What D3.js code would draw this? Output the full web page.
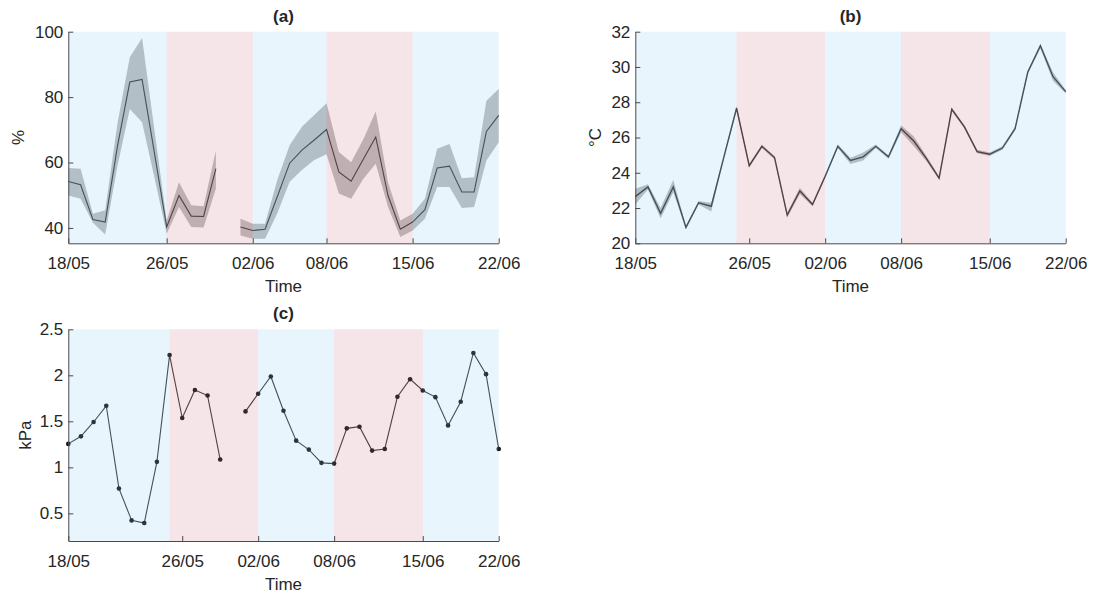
<!DOCTYPE html>
<html lang="en">
<head>
<meta charset="utf-8">
<title>RH, temperature and VPD</title>
<script src="https://cdn.jsdelivr.net/npm/d3@7"></script>
<style>
	body { margin: 0; background: #fff; }
	svg text { font-family: "Liberation Sans", Arial, sans-serif; }
</style>
</head>
<body>
<script>

// ---- data ----
// panel (a): relative humidity, daily mean and band (day 0 = 18/05)
var aMean = [54.2, 53.2, 42.6, 41.8, 65, 84.6, 85.4, 63, 40.3, 49.9, 43.6, 43.5, 58.1, null,
	40.3, 39.2, 39.6, 49.6, 59.8, 63.8, 66.9, 70.1, 57.1, 54.3, 61.1, 67.8, 49.9, 39.6,
	41.8, 45.6, 58.3, 58.9, 51.0, 51.0, 69.5, 74.4]
var aHi = [58.3, 58.1, 44.3, 45.4, 72, 92.2, 98.1, 70, 42.3, 54.0, 46.9, 46.6, 63.7, null,
	42.8, 41.3, 41.3, 54.7, 65.3, 70.9, 74.5, 78.1, 63.2, 60.1, 67.2, 75.6, 54.0, 42.3,
	44.3, 48.9, 64.2, 65.7, 55.2, 55.5, 78.9, 82.5]
var aLo = [49.9, 48.9, 41.6, 38.0, 59, 76.4, 72.3, 55.5, 38.2, 46.4, 40.3, 40.1, 52.0, null,
	37.7, 36.7, 36.7, 44.5, 54.1, 57.7, 60.8, 62.5, 50.5, 48.9, 55.0, 59.6, 46.4, 37.2,
	39.2, 42.8, 52.5, 52.5, 46.1, 46.4, 60.6, 66.2]
var aTicks = [0, 8, 15, 21, 28, 35]
var aPeriods = [[0, 8, "wet"], [8, 15, "dry"], [15, 21, "wet"], [21, 28, "dry"], [28, 35, "wet"]]

// panel (b): air temperature
var bMean = [22.65, 23.2, 21.7, 23.2, 20.9, 22.3, 22.1, 24.9, 27.66, 24.4, 25.5, 24.86, 21.6, 22.97,
	22.2, 23.8, 25.5, 24.7, 24.9, 25.5, 24.9, 26.5, 25.8, 24.8, 23.7, 27.6, 26.6, 25.2,
	25.05, 25.4, 26.5, 29.7, 31.2, 29.45, 28.6]
var bLo = [22.2, 23.05, 21.4, 22.9, 20.8, 22.2, 21.8, 24.8, 27.55, 24.3, 25.4, 24.75, 21.45, 22.8,
	22.1, 23.7, 25.4, 24.5, 24.7, 25.4, 24.8, 26.3, 25.5, 24.65, 23.6, 27.5, 26.5, 25.1,
	24.95, 25.3, 26.4, 29.6, 31.05, 29.2, 28.5]
var bHi = [23.1, 23.35, 22.0, 23.6, 21.0, 22.4, 22.3, 25.0, 27.8, 24.5, 25.6, 24.95, 21.75, 23.15,
	22.3, 23.9, 25.6, 24.85, 25.15, 25.6, 25.0, 26.7, 26.05, 24.95, 23.8, 27.7, 26.7, 25.3,
	25.15, 25.5, 26.6, 29.8, 31.3, 29.7, 28.7]

// panel (c): vapour pressure deficit
var cVpd = [1.255, 1.337, 1.493, 1.669, 0.771, 0.424, 0.395, 1.06, 2.22, 1.536, 1.84, 1.78, 1.085, null,
	1.608, 1.80, 1.987, 1.615, 1.29, 1.193, 1.049, 1.041, 1.424, 1.442, 1.182, 1.20, 1.767,
	1.958, 1.835, 1.763, 1.456, 1.713, 2.243, 2.013, 1.20]

var bcTicks = [0, 9, 15, 21, 28, 34]
var bcPeriods = [[0, 8, "wet"], [8, 15, "dry"], [15, 21, "wet"], [21, 28, "dry"], [28, 34, "wet"]]

var dateLabels = ["18/05", "26/05", "02/06", "08/06", "15/06", "22/06"]
var aYTicks = [40, 60, 80, 100]
var bYTicks = [20, 22, 24, 26, 28, 30, 32]
var cYTicks = [0.5, 1, 1.5, 2, 2.5]

var w = 1098, h = 593
var svg = d3.select("body").append("svg").attr("width", w).attr("height", h)

var periodColor = { wet: "rgb(145,205,240)", dry: "rgb(205,120,140)" }

function drawPanel(p) {
	var x = d3.scaleLinear().domain(p.xDomain).range([p.left, p.right])
	var y = d3.scaleLinear().domain(p.yDomain).range([p.bottom, p.top])
	var g = svg.append("g")
	var idx = d3.range(p.mean.length)

	if (p.lo) {
		var area = d3.area()
			.defined(function(i) { return p.lo[i] != null; })
			.x(function(i) { return x(i); })
			.y0(function(i) { return y(p.lo[i]); })
			.y1(function(i) { return y(p.hi[i]); })
		g.append("path").datum(idx)
			.attr("d", area)
			.attr("fill", "#505050")
			.attr("fill-opacity", 0.38)
	}

	var line = d3.line()
		.defined(function(i) { return p.mean[i] != null; })
		.x(function(i) { return x(i); })
		.y(function(i) { return y(p.mean[i]); })
	g.append("path").datum(idx)
		.attr("d", line)
		.attr("fill", "none")
		.attr("stroke", "#333")
		.attr("stroke-width", p.lineW)

	if (p.dots) {
		g.selectAll("circle")
			.data(idx.filter(function(i) { return p.mean[i] != null; }))
			.enter()
			.append("circle")
			.attr("cx", function(i) { return x(i); })
			.attr("cy", function(i) { return y(p.mean[i]); })
			.attr("r", 2.3)
			.attr("fill", "#111")
	}

	// wet / dry period shading, laid over the data like the original patches
	g.selectAll("rect.shade")
		.data(p.periods)
		.enter()
		.append("rect")
		.attr("class", "shade")
		.attr("x", function(d) { return x(d[0]); })
		.attr("width", function(d) { return x(d[1]) - x(d[0]); })
		.attr("y", p.top)
		.attr("height", p.bottom - p.top)
		.attr("fill", function(d) { return periodColor[d[2]]; })
		.attr("fill-opacity", 0.2)

	var xAxis = d3.axisBottom(x)
		.tickValues(p.xTicks)
		.tickFormat(function(d, i) { return dateLabels[i]; })
		.tickSizeInner(-5)
		.tickSizeOuter(0)
		.tickPadding(13.5)
	var gx = g.append("g").attr("transform", "translate(0," + p.bottom + ")").call(xAxis)

	var yAxis = d3.axisLeft(y)
		.tickValues(p.yTicks)
		.tickFormat(function(d) { return String(d); })
		.tickSizeInner(-5)
		.tickSizeOuter(0)
		.tickPadding(5)
	var gy = g.append("g").attr("transform", "translate(" + p.left + ",0)").call(yAxis)

	;[gx, gy].forEach(function(a) {
		a.attr("font-size", 17).attr("font-family", "Liberation Sans, Arial, sans-serif")
		a.selectAll("path, line").attr("stroke", "#4a4a4a")
		a.selectAll("text").attr("fill", "#262626")
	})

	g.append("text")
		.attr("x", (p.left + p.right) / 2)
		.attr("y", p.top - 10)
		.attr("text-anchor", "middle")
		.attr("font-size", 17)
		.attr("font-weight", "bold")
		.attr("fill", "#262626")
		.text(p.title)

	g.append("text")
		.attr("x", (p.left + p.right) / 2)
		.attr("y", p.bottom + 48.5)
		.attr("text-anchor", "middle")
		.attr("font-size", 17)
		.attr("fill", "#262626")
		.text("Time")

	g.append("text")
		.attr("transform", "translate(" + p.ylabX + "," + ((p.top + p.bottom) / 2) + ") rotate(-90)")
		.attr("text-anchor", "middle")
		.attr("font-size", 17)
		.attr("fill", "#262626")
		.text(p.ylabel)
}

drawPanel({
	left: 68.3, right: 498.7, top: 31.7, bottom: 243.3,
	xDomain: [0, 35], yDomain: [35.3, 100],
	mean: aMean, lo: aLo, hi: aHi, lineW: 1.1,
	xTicks: aTicks, yTicks: aYTicks, periods: aPeriods,
	title: "(a)", ylabel: "%", ylabX: 24
})

drawPanel({
	left: 635.3, right: 1065.7, top: 31.7, bottom: 243.3,
	xDomain: [0, 34], yDomain: [20, 32],
	mean: bMean, lo: bLo, hi: bHi, lineW: 1.4,
	xTicks: bcTicks, yTicks: bYTicks, periods: bcPeriods,
	title: "(b)", ylabel: "°C", ylabX: 601
})

drawPanel({
	left: 68.3, right: 498.7, top: 329.3, bottom: 541,
	xDomain: [0, 34], yDomain: [0.2, 2.5],
	mean: cVpd, lineW: 1.1, dots: true,
	xTicks: bcTicks, yTicks: cYTicks, periods: bcPeriods,
	title: "(c)", ylabel: "kPa", ylabX: 30.5
})

</script>
</body>
</html>
